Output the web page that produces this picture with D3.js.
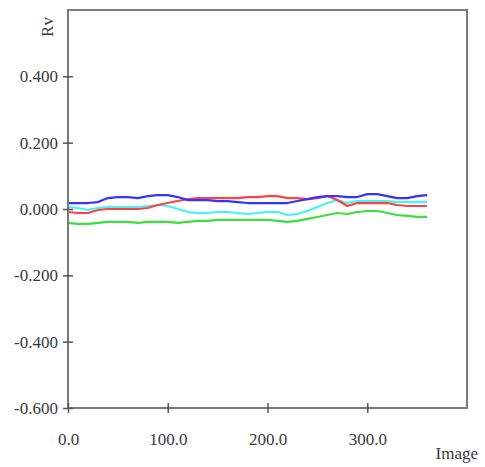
<!DOCTYPE html>
<html><head><meta charset="utf-8">
<script src="https://cdn.jsdelivr.net/npm/d3@7"></script>
<style>body{margin:0;background:#fff}</style>
</head><body>
<svg id="c" width="485" height="467"></svg>
<script>
const xVals = [0,10,20,30,40,50,60,70,80,90,100,110,120,130,140,150,160,170,180,190,200,210,220,230,240,250,260,270,280,290,300,310,320,330,340,350,360];
const blue  = [0.018,0.018,0.018,0.021,0.033,0.036,0.036,0.033,0.039,0.042,0.042,0.036,0.027,0.027,0.027,0.024,0.024,0.021,0.018,0.018,0.018,0.018,0.018,0.024,0.030,0.036,0.039,0.039,0.036,0.036,0.045,0.045,0.039,0.033,0.033,0.039,0.042];
const red   = [-0.009,-0.012,-0.012,-0.003,0,0,0,0,0.003,0.012,0.018,0.024,0.030,0.033,0.033,0.033,0.033,0.033,0.036,0.036,0.039,0.039,0.033,0.033,0.030,0.033,0.039,0.027,0.009,0.018,0.018,0.018,0.018,0.012,0.009,0.009,0.009];
const cyan  = [0.006,0.003,-0.003,0.003,0.006,0.006,0.006,0.006,0.009,0.012,0.009,0,-0.009,-0.012,-0.012,-0.009,-0.009,-0.012,-0.015,-0.012,-0.009,-0.009,-0.018,-0.015,-0.006,0.006,0.018,0.027,0.018,0.024,0.024,0.024,0.024,0.021,0.021,0.021,0.021];
const green = [-0.042,-0.045,-0.045,-0.042,-0.039,-0.039,-0.039,-0.042,-0.039,-0.039,-0.039,-0.042,-0.039,-0.036,-0.036,-0.033,-0.033,-0.033,-0.033,-0.033,-0.033,-0.036,-0.039,-0.036,-0.030,-0.024,-0.018,-0.012,-0.015,-0.009,-0.006,-0.006,-0.012,-0.018,-0.021,-0.024,-0.024];
const yTicks = [-0.6,-0.4,-0.2,0,0.2,0.4];
const xTicks = [0,100,200,300];
const seriesList = [
  {name:"green", values:green, color:"#3ce03c"},
  {name:"cyan", values:cyan, color:"#44f4f4"},
  {name:"red", values:red, color:"#ff4343"},
  {name:"blue", values:blue, color:"#3434ff"}
];

const svg = d3.select("#c");
const L=68, R=467, T=10, B=408;
const x = d3.scaleLinear().domain([0,400]).range([L,R]);
const y = d3.scaleLinear().domain([-0.6,0.6]).range([B,T]);
const axisColor = "#7a7a7a";
const font = "'Liberation Serif', 'Times New Roman', serif";
const loc = d3.formatLocale({decimal:".", thousands:",", grouping:[3], currency:["",""], minus:"-"});

// lines
const line = d3.line().x((d,i)=>x(xVals[i])).y(d=>y(d));
seriesList.forEach(s=>{
  svg.append("path").datum(s.values).attr("d",line)
    .attr("fill","none").attr("stroke",s.color).attr("stroke-width",2.2)
    .attr("stroke-linejoin","round");
});

// frame
svg.append("path").attr("d",`M${L},${B}V${T}H${R}V${B}Z`)
  .attr("fill","none").attr("stroke",axisColor).attr("stroke-width",2);

// y axis
const yAxis = d3.axisLeft(y).tickValues(yTicks).tickFormat(loc.format(".3f")).tickSizeInner(5).tickSizeOuter(0).tickPadding(5);
const gy = svg.append("g").attr("transform",`translate(${L},0)`).call(yAxis);
gy.select(".domain").remove();
gy.selectAll(".tick line").attr("x2",-5).attr("x1",5).attr("stroke","#555").attr("stroke-width",1.5);
gy.selectAll(".tick text").style("font-family",font).style("font-size","17px").attr("fill","#3a3a3a").attr("x",-10);

// x axis
const xAxis = d3.axisBottom(x).tickValues(xTicks).tickFormat(loc.format(".1f")).tickSizeInner(5).tickSizeOuter(0).tickPadding(20);
const gx = svg.append("g").attr("transform",`translate(0,${B})`).call(xAxis);
gx.select(".domain").remove();
gx.selectAll(".tick line").attr("y1",-5).attr("y2",5).attr("stroke","#555").attr("stroke-width",1.5);
gx.selectAll(".tick text").style("font-family",font).style("font-size","17px").attr("fill","#3a3a3a");

// axis titles
svg.append("text").attr("x",478).attr("y",459).attr("text-anchor","end")
  .style("font-family",font).style("font-size","17px").attr("fill","#3a3a3a").text("Image");
svg.append("text").attr("transform","translate(53,27) rotate(-90)").attr("text-anchor","middle")
  .style("font-family",font).style("font-size","17px").attr("fill","#3a3a3a").text("Rv");
</script>
</body></html>
